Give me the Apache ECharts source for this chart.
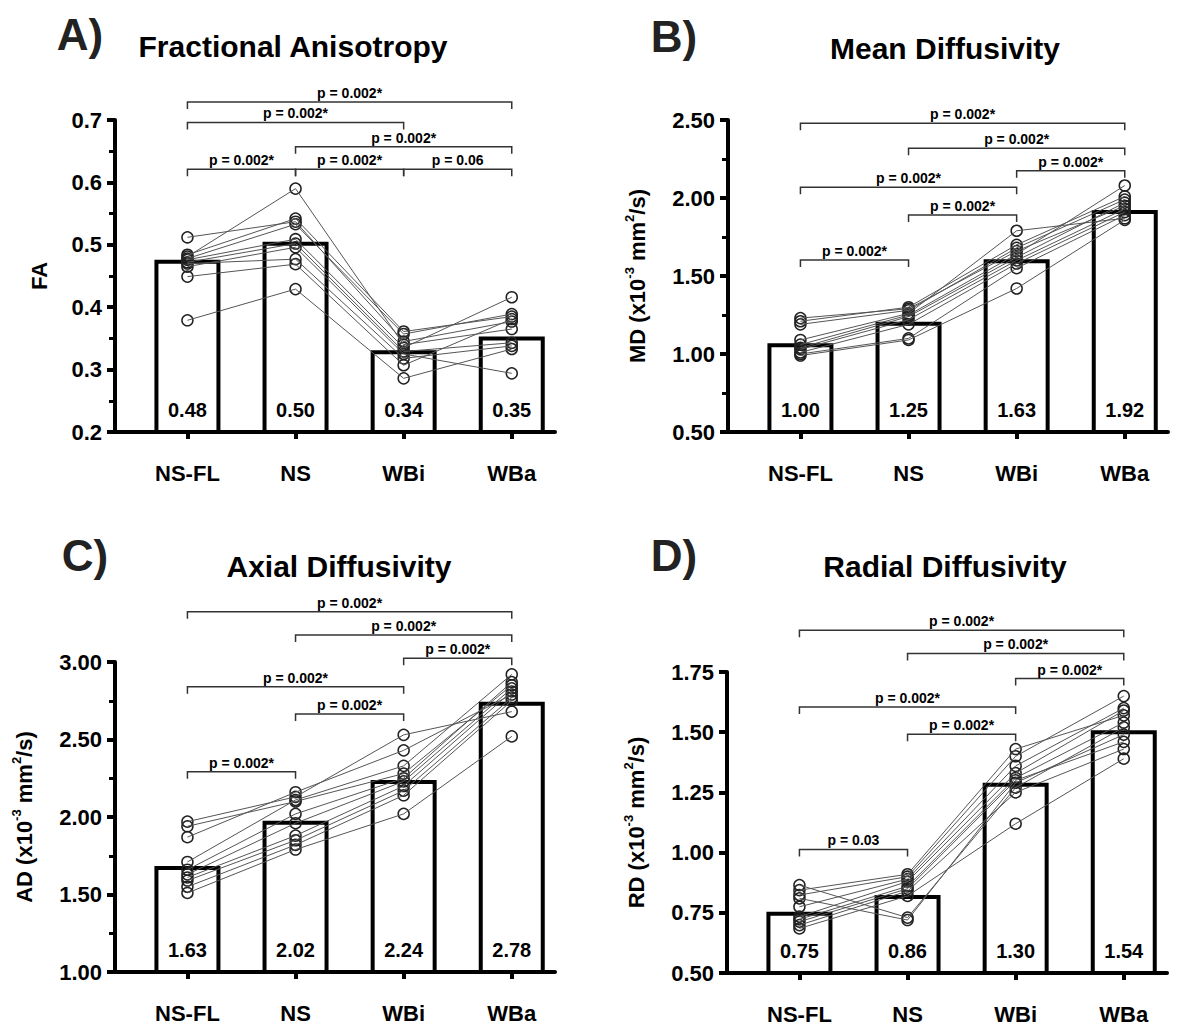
<!DOCTYPE html>
<html>
<head>
<meta charset="utf-8">
<title>DTI metrics by condition</title>
<script src="https://cdn.jsdelivr.net/npm/echarts@6/dist/echarts.min.js"></script>
<style>
  html, body { margin: 0; padding: 0; background: #fff; }
  #chart { width: 1201px; height: 1030px; }
</style>
</head>
<body>
<div id="chart"></div>
<script>
const groups = ['NS-FL', 'NS', 'WBi', 'WBa']

// bar heights as drawn, and the numbers printed inside the bars
const faBars = [0.476, 0.505, 0.331, 0.353]
const faBarLabels = ['0.48', '0.50', '0.34', '0.35']
const mdBars = [1.069, 1.207, 1.607, 1.923]
const mdBarLabels = ['1.00', '1.25', '1.63', '1.92']
const adBars = [1.684, 1.976, 2.239, 2.744]
const adBarLabels = ['1.63', '2.02', '2.24', '2.78']
const rdBars = [0.754, 0.824, 1.290, 1.508]
const rdBarLabels = ['0.75', '0.86', '1.30', '1.54']

// one row per subject: NS-FL, NS, WBi, WBa
const faSubjects = [
  [0.512, 0.537, 0.345, 0.377],
  [0.481, 0.590, 0.340, 0.365],
  [0.484, 0.542, 0.361, 0.385],
  [0.478, 0.533, 0.357, 0.389],
  [0.476, 0.509, 0.335, 0.416],
  [0.472, 0.502, 0.329, 0.343],
  [0.465, 0.496, 0.325, 0.294],
  [0.470, 0.477, 0.318, 0.338],
  [0.449, 0.469, 0.307, 0.381],
  [0.379, 0.429, 0.286, 0.333]
]
const mdSubjects = [
  [1.23, 1.29, 1.66, 1.95],
  [1.21, 1.30, 1.70, 2.01],
  [1.19, 1.28, 1.68, 1.99],
  [1.09, 1.26, 1.79, 1.87],
  [1.06, 1.25, 1.64, 2.08],
  [1.04, 1.24, 1.62, 1.97],
  [1.03, 1.22, 1.60, 1.93],
  [1.01, 1.19, 1.58, 1.91],
  [1.00, 1.10, 1.55, 1.89],
  [0.99, 1.09, 1.42, 1.86]
]
const adSubjects = [
  [1.97, 2.13, 2.53, 2.68],
  [1.94, 2.10, 2.28, 2.85],
  [1.87, 2.16, 2.43, 2.79],
  [1.71, 2.11, 2.33, 2.92],
  [1.66, 2.02, 2.25, 2.87],
  [1.63, 1.96, 2.23, 2.83],
  [1.61, 1.88, 2.20, 2.81],
  [1.59, 1.85, 2.17, 2.77],
  [1.55, 1.82, 2.14, 2.75],
  [1.51, 1.79, 2.02, 2.52]
]
const rdSubjects = [
  [0.865, 0.73, 1.27, 1.52],
  [0.844, 0.91, 1.43, 1.57],
  [0.824, 0.90, 1.40, 1.65],
  [0.810, 0.72, 1.29, 1.49],
  [0.775, 0.89, 1.36, 1.60],
  [0.734, 0.88, 1.33, 1.59],
  [0.723, 0.86, 1.31, 1.54],
  [0.713, 0.85, 1.30, 1.46],
  [0.699, 0.84, 1.25, 1.43],
  [0.685, 0.82, 1.12, 1.39]
]

// comparison brackets: [from group, to group, height, text]
const faBrackets = [
  [0, 3, 0.729, 'p = 0.002*'],
  [0, 2, 0.696, 'p = 0.002*'],
  [1, 3, 0.657, 'p = 0.002*'],
  [0, 1, 0.621, 'p = 0.002*'],
  [1, 2, 0.621, 'p = 0.002*'],
  [2, 3, 0.621, 'p = 0.06']
]
const mdBrackets = [
  [0, 3, 2.479, 'p = 0.002*'],
  [1, 3, 2.319, 'p = 0.002*'],
  [2, 3, 2.175, 'p = 0.002*'],
  [0, 2, 2.069, 'p = 0.002*'],
  [1, 2, 1.891, 'p = 0.002*'],
  [0, 1, 1.603, 'p = 0.002*']
]
const adBrackets = [
  [0, 3, 3.325, 'p = 0.002*'],
  [1, 3, 3.174, 'p = 0.002*'],
  [2, 3, 3.024, 'p = 0.002*'],
  [0, 2, 2.841, 'p = 0.002*'],
  [1, 2, 2.665, 'p = 0.002*'],
  [0, 1, 2.292, 'p = 0.002*']
]
const rdBrackets = [
  [0, 3, 1.923, 'p = 0.002*'],
  [1, 3, 1.827, 'p = 0.002*'],
  [2, 3, 1.723, 'p = 0.002*'],
  [0, 2, 1.605, 'p = 0.002*'],
  [1, 2, 1.492, 'p = 0.002*'],
  [0, 1, 1.013, 'p = 0.03']
]

const FONT = '"Liberation Sans", Arial, Helvetica, sans-serif'

const panels = [
  {
    letter: 'A)', title: 'Fractional Anisotropy', name: 'FA',
    bars: faBars, barLabels: faBarLabels, subjects: faSubjects, brackets: faBrackets,
    min: 0.2, max: 0.7, step: 0.1, digits: 1, minor: true,
    left: 115, top: 120, bottom: 432, nameGap: 62,
    letterX: 80, letterY: 34, titleX: 293, titleY: 46
  },
  {
    letter: 'B)', title: 'Mean Diffusivity', name: 'MD (x10{sup|-3} mm{sup|2}/s)',
    bars: mdBars, barLabels: mdBarLabels, subjects: mdSubjects, brackets: mdBrackets,
    min: 0.5, max: 2.5, step: 0.5, digits: 2, minor: true,
    left: 728, top: 120, bottom: 432, nameGap: 77,
    letterX: 674, letterY: 36, titleX: 945, titleY: 48
  },
  {
    letter: 'C)', title: 'Axial Diffusivity', name: 'AD (x10{sup|-3} mm{sup|2}/s)',
    bars: adBars, barLabels: adBarLabels, subjects: adSubjects, brackets: adBrackets,
    min: 1.0, max: 3.0, step: 0.5, digits: 2, minor: true,
    left: 115, top: 662, bottom: 972, nameGap: 77,
    letterX: 85, letterY: 555, titleX: 339, titleY: 566
  },
  {
    letter: 'D)', title: 'Radial Diffusivity', name: 'RD (x10{sup|-3} mm{sup|2}/s)',
    bars: rdBars, barLabels: rdBarLabels, subjects: rdSubjects, brackets: rdBrackets,
    min: 0.5, max: 1.75, step: 0.25, digits: 2, minor: false,
    left: 727, top: 672, bottom: 973, nameGap: 77,
    letterX: 674, letterY: 555, titleX: 945, titleY: 566
  }
]

const chart = echarts.init(document.getElementById('chart'), null, { renderer: 'svg' })

const option = {
  animation: false,
  backgroundColor: '#fff',
  grid: [],
  xAxis: [],
  yAxis: [],
  series: [],
  graphic: []
}

panels.forEach((p, k) => {
  option.grid.push({
    left: p.left, top: p.top, width: 440, height: p.bottom - p.top,
    containLabel: false, outerBoundsMode: 'none'
  })

  option.xAxis.push({
    type: 'value', gridIndex: k, min: -0.67, max: 3.4,
    splitLine: { show: false },
    axisLine: { show: true, onZero: false, lineStyle: { color: '#000', width: 4 } },
    axisTick: { show: true, customValues: [0, 1, 2, 3], length: 7, lineStyle: { color: '#000', width: 4 } },
    axisLabel: {
      customValues: [0, 1, 2, 3], formatter: v => groups[v], margin: 30,
      fontSize: 22, fontWeight: 'bold', fontFamily: FONT, color: '#000'
    }
  })

  option.yAxis.push({
    type: 'value', gridIndex: k, min: p.min, max: p.max, interval: p.step,
    name: p.name, nameLocation: 'middle', nameGap: p.nameGap, nameRotate: 90,
    nameTextStyle: {
      fontSize: 22, fontWeight: 'bold', fontFamily: FONT, color: '#000', lineHeight: 28,
      rich: { sup: { fontSize: 13, fontWeight: 'bold', fontFamily: FONT, color: '#000', verticalAlign: 'top', lineHeight: 28 } }
    },
    splitLine: { show: false },
    axisLine: { show: true, onZero: false, lineStyle: { color: '#000', width: 4 } },
    axisTick: { show: true, length: 8, lineStyle: { color: '#000', width: 4 } },
    minorTick: { show: p.minor, splitNumber: 2, length: 6, lineStyle: { color: '#000', width: 3 } },
    axisLabel: {
      margin: 13, formatter: v => v.toFixed(p.digits),
      fontSize: 22, fontWeight: 'bold', fontFamily: FONT, color: '#000'
    }
  })

  option.series.push({
    type: 'bar', xAxisIndex: k, yAxisIndex: k,
    data: p.bars.map((v, i) => [i, v]),
    barWidth: 66,
    itemStyle: { color: '#fff', borderColor: '#000', borderWidth: 4 },
    silent: true
  })

  p.subjects.forEach(row => {
    option.series.push({
      type: 'line', xAxisIndex: k, yAxisIndex: k,
      data: row.map((v, i) => [i, v]),
      symbol: 'none',
      lineStyle: { color: '#555', width: 1 },
      silent: true
    })
  })

  option.series.push({
    type: 'scatter', xAxisIndex: k, yAxisIndex: k,
    data: p.subjects.flatMap(row => row.map((v, i) => [i, v])),
    symbol: 'circle', symbolSize: 11,
    itemStyle: { color: 'rgba(255,255,255,0)', borderColor: '#222', borderWidth: 1.5, opacity: 1 },
    silent: true
  })

  // numbers inside the bars, sitting on the x axis
  option.series.push({
    type: 'scatter', xAxisIndex: k, yAxisIndex: k,
    data: groups.map((g, i) => [i, p.min]),
    symbolSize: 0,
    itemStyle: { opacity: 1 },
    label: {
      show: true, position: 'top', distance: 12,
      formatter: params => p.barLabels[params.dataIndex],
      fontSize: 20, fontWeight: 'bold', fontFamily: FONT, color: '#000'
    },
    silent: true
  })

  option.series.push({
    type: 'custom', xAxisIndex: k, yAxisIndex: k,
    data: p.brackets.map(b => [b[0], b[2]]),
    clip: false, silent: true,
    renderItem: (params, api) => {
      const b = p.brackets[params.dataIndex]
      const a = api.coord([b[0], b[2]])
      const c = api.coord([b[1], b[2]])
      return {
        type: 'group',
        children: [
          {
            type: 'polyline',
            shape: { points: [[a[0], a[1] + 7], [a[0], a[1]], [c[0], c[1]], [c[0], c[1] + 7]] },
            style: { stroke: '#333', lineWidth: 1.5, fill: null }
          },
          {
            type: 'text', x: (a[0] + c[0]) / 2, y: a[1] - 2,
            style: {
              text: b[3], fill: '#000', fontSize: 14, fontWeight: 'bold', fontFamily: FONT,
              align: 'center', verticalAlign: 'bottom'
            }
          }
        ]
      }
    }
  })

  option.graphic.push({
    type: 'text', x: p.letterX, y: p.letterY,
    style: { text: p.letter, fill: '#222', fontSize: 44, fontWeight: 'bold', fontFamily: FONT, align: 'center', verticalAlign: 'middle' }
  })
  option.graphic.push({
    type: 'text', x: p.titleX, y: p.titleY,
    style: { text: p.title, fill: '#000', fontSize: 30, fontWeight: 'bold', fontFamily: FONT, align: 'center', verticalAlign: 'middle' }
  })
})

chart.setOption(option)
</script>
</body>
</html>
